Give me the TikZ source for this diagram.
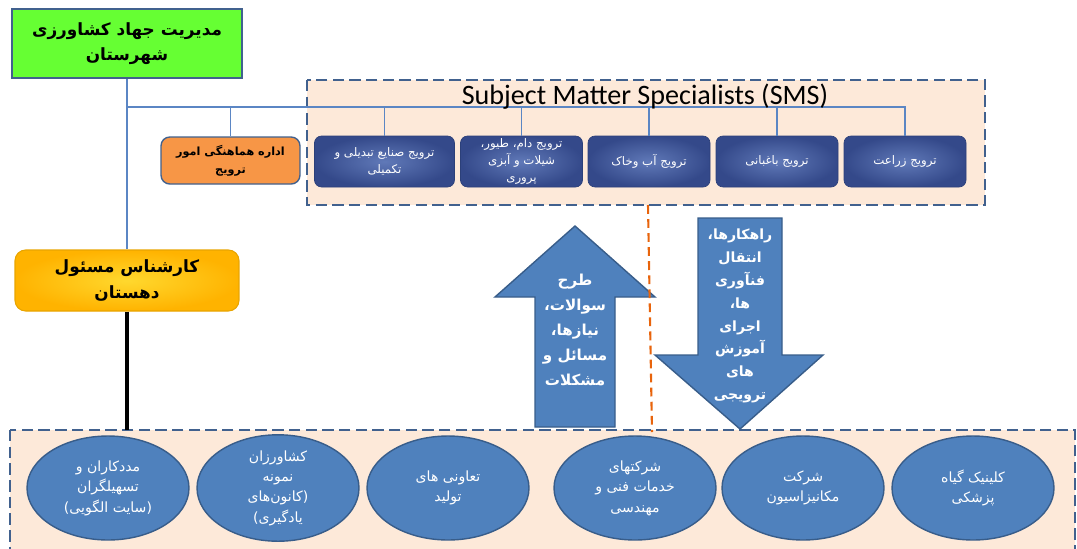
\documentclass[tikz,border=0pt]{standalone}
\usepackage{fontspec}
\newfontfamily\fa[Script=Arabic]{DejaVu Sans}
\newfontfamily\latin{Carlito}
\usetikzlibrary{shapes.geometric}
\TeXXeTstate=1
\newcommand{\rl}[1]{\beginR#1\endR}
\definecolor{peach}{HTML}{FDE9D9}
\definecolor{frameblue}{HTML}{41618E}
\definecolor{linkblue}{HTML}{5B86C4}
\definecolor{navy}{HTML}{34498A}
\definecolor{navylight}{HTML}{6079B8}
\definecolor{navyedge}{HTML}{2C4079}
\definecolor{cellblue}{HTML}{4F81BD}
\definecolor{celledge}{HTML}{385D8A}
\definecolor{leafgreen}{HTML}{66FF33}
\definecolor{promoorange}{HTML}{F79646}
\definecolor{gold}{HTML}{FFB300}
\definecolor{goldlight}{HTML}{FFD82E}
\definecolor{goldedge}{HTML}{E8A400}
\definecolor{splitorange}{HTML}{E8640C}

\begin{document}
\begin{tikzpicture}[x=0.02cm,y=-0.02cm,every node/.style={font=\fa},
  frame/.style={fill=peach,draw=frameblue,line width=1.3pt,dash pattern=on 6.5pt off 3pt},
  link/.style={draw=linkblue,line width=0.6pt},
  smsbox/.style={draw=navyedge,rounded corners=4pt,inner color=navylight,outer color=navy,
    text=white,font=\fa\fontsize{6.7}{9.5}\selectfont,minimum width=2.44cm,
    minimum height=1.02cm,align=center,inner sep=1pt},
  cell/.style={ellipse,draw=celledge,line width=0.8pt,fill=cellblue,text=white,
    minimum width=3.24cm,minimum height=2.08cm,align=center,inner sep=0pt,
    font=\fa\fontsize{8}{11.6}\selectfont},
  flow/.style={fill=cellblue,draw=celledge,line width=0.8pt}]
\useasboundingbox (0,0) rectangle (1077,548);
\draw[frame] (307,80) rectangle (985,205);
\draw[frame] (10,430) rectangle (1075,570);

\node[draw=frameblue,line width=1pt,fill=leafgreen,minimum width=4.6cm,minimum height=1.38cm,
  align=center,font=\fa\bfseries\fontsize{9.6}{14}\selectfont] (g) at (127,43.5)
  {\rl{مدیریت جهاد کشاورزی}\\\rl{شهرستان}};
\node[draw=frameblue,line width=0.8pt,fill=promoorange,rounded corners=5pt,minimum width=2.78cm,
  minimum height=0.94cm,align=center,font=\fa\bfseries\fontsize{6.4}{10}\selectfont] (o) at (230.5,160.5)
  {\rl{اداره هماهنگی امور}\\\rl{ترویج}};
\node[smsbox,minimum width=2.8cm] (b1) at (384.5,161.5) {\rl{ترویج صنایع تبدیلی و}\\\rl{تکمیلی}};
\node[smsbox] (b2) at (521.5,161.5) {\rl{ترویج دام، طیور،}\\\rl{شیلات  و آبزی}\\\rl{پروری}};
\node[smsbox] (b3) at (649,161.5) {\rl{ترویج آب وخاک}};
\node[smsbox] (b4) at (777,161.5) {\rl{ترویج باغبانی}};
\node[smsbox] (b5) at (905,161.5) {\rl{ترویج زراعت}};
\node[draw=goldedge,line width=0.6pt,inner color=goldlight,outer color=gold,rounded corners=6pt,
  minimum width=4.48cm,minimum height=1.22cm,align=center,
  font=\fa\bfseries\fontsize{9.6}{15}\selectfont] (k) at (127,280.5)
  {\rl{کارشناس مسئول}\\\rl{دهستان}};

\coordinate (bus) at (127,107);
\draw[link] (g.south) -- (bus) -- (k.north);
\draw[link] (bus) -| (o.north);
\draw[link] (bus) -| (b1.north);
\draw[link] (bus) -| (b2.north);
\draw[link] (bus) -| (b3.north);
\draw[link] (bus) -| (b4.north);
\draw[link] (bus) -| (b5.north);
\node[font=\latin\fontsize{16}{18}\selectfont] (sms) at (645,97) {Subject Matter Specialists (SMS)};
\coordinate (field) at (127,430);
\draw[line width=1.8pt] (k.south) -- (field);

\node[cell] (e1) at (108,488) {\rl{مددکاران  و}\\\rl{تسهیلگران}\\\rl{(سایت الگویی)}};
\node[cell] (e2) at (278,488) {\rl{کشاورزان}\\\rl{نمونه}\\\rl{(کانون‌های}\\\rl{یادگیری)}};
\node[cell] (e3) at (448,488) {\rl{تعاونی های}\\\rl{تولید}};
\node[cell] (e4) at (635,488) {\rl{شرکتهای}\\\rl{خدمات فنی و}\\\rl{مهندسی}};
\node[cell] (e5) at (803,488) {\rl{شرکت}\\\rl{مکانیزاسیون}};
\node[cell] (e6) at (973,488) {\rl{کلینیک گیاه}\\\rl{پزشکی}};

\draw[flow] (535,427) -- (535,297) -- (495,297) -- (575,226) -- (655,297) -- (615,297) -- (615,427) -- cycle;
\draw[flow] (698,218) -- (782,218) -- (782,355) -- (823,355) -- (740,429) -- (655,355) -- (698,355) -- cycle;
\node[text=white,align=center,font=\fa\bfseries\fontsize{8.6}{14.2}\selectfont] (ask) at (575,330)
  {\rl{طرح}\\\rl{سوالات،}\\\rl{نیازها،}\\\rl{مسائل و}\\\rl{مشکلات}};
\node[text=white,align=center,font=\fa\bfseries\fontsize{8}{13}\selectfont] (answer) at (740,316)
  {\rl{راهکارها،}\\\rl{انتقال}\\\rl{فنآوری}\\\rl{ها،}\\\rl{اجرای}\\\rl{آموزش}\\\rl{های}\\\rl{ترویجی}};
\draw[splitorange,line width=1.2pt,dash pattern=on 5pt off 3pt] (648,205) -- (652,432);
\end{tikzpicture}
\end{document}
